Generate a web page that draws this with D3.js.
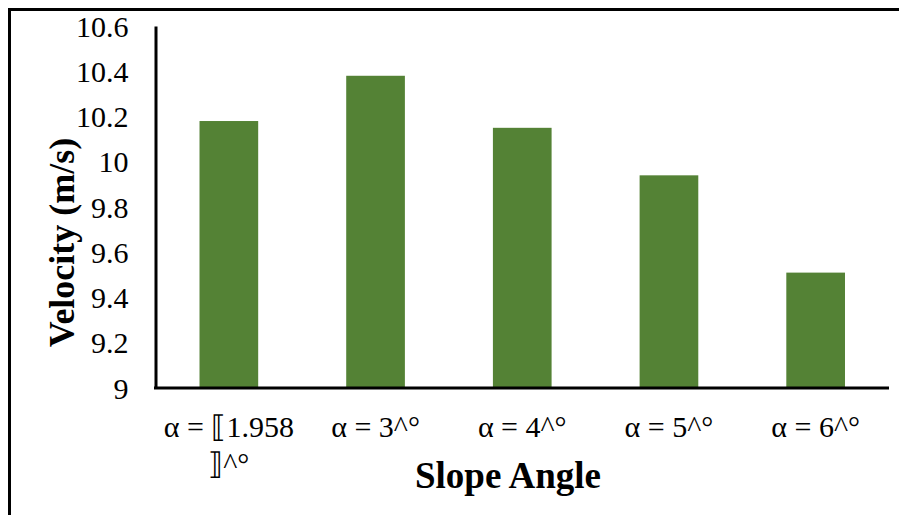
<!DOCTYPE html>
<html>
<head>
<meta charset="utf-8">
<script src="https://cdn.jsdelivr.net/npm/d3@7"></script>
<style>
  html, body { margin: 0; padding: 0; background: #fff; }
  svg { display: block; }
</style>
</head>
<body>
<svg id="chart" width="899" height="515"></svg>
<script>
// Velocity at each slope angle
const categories = ["α = ⟦1.958 ⟧^°", "α = 3^°", "α = 4^°", "α = 5^°", "α = 6^°"];
const labelLines = [["α = ⟦1.958", "⟧^°"], ["α = 3^°"], ["α = 4^°"], ["α = 5^°"], ["α = 6^°"]];
const velocities = [10.18, 10.38, 10.15, 9.94, 9.51];
const yTicks = [9, 9.2, 9.4, 9.6, 9.8, 10, 10.2, 10.4, 10.6];

const FONT = '"Liberation Serif", "Times New Roman", serif';
const svg = d3.select("#chart");
const margin = { left: 155.5, top: 26 };
const W = 899, H = 515;

// outer frame (only top and left edges fall inside the canvas)
svg.append("rect")
  .attr("x", 9.5).attr("y", 9.5)
  .attr("width", W + 20).attr("height", H + 20)
  .attr("fill", "none").attr("stroke", "#000").attr("stroke-width", 3);

const x = d3.scaleBand()
  .domain(categories)
  .range([margin.left, 889])
  .paddingInner(0.6)
  .paddingOuter(0.3);

const y = d3.scaleLinear()
  .domain([9, 10.6])
  .range([388, margin.top]);

// bars
svg.append("g").selectAll("rect")
  .data(velocities)
  .join("rect")
  .attr("x", (d, i) => x(categories[i]))
  .attr("y", d => y(d))
  .attr("width", x.bandwidth())
  .attr("height", d => y(9) - y(d))
  .attr("fill", "#548235");

// y axis
const yAxis = svg.append("g")
  .attr("transform", `translate(${margin.left},0)`)
  .call(d3.axisLeft(y).tickValues(yTicks).tickSize(0).tickSizeOuter(0).tickPadding(27)
    .tickFormat(d => String(+d.toFixed(1))));
yAxis.select(".domain").attr("stroke", "#000").attr("stroke-width", 3);
yAxis.selectAll(".tick text")
  .style("font-family", FONT)
  .style("font-size", "30px")
  .style("fill", "#000")
  .attr("dy", "0.34em");

// x axis
const xAxis = svg.append("g")
  .attr("transform", `translate(0,${y(9)})`)
  .call(d3.axisBottom(x).tickSize(0).tickSizeOuter(0).tickFormat(""));
xAxis.select(".domain").attr("stroke", "#000").attr("stroke-width", 3)
  .attr("d", `M${margin.left - 1.5},0H889`);

// category labels (wrapped)
const catG = svg.append("g");
categories.forEach((c, i) => {
  const cx = x(c) + x.bandwidth() / 2;
  const t = catG.append("text")
    .attr("x", cx)
    .attr("y", 437)
    .attr("text-anchor", "middle")
    .style("font-family", FONT)
    .style("font-size", "30px")
    .style("fill", "#000");
  labelLines[i].forEach((line, j) => {
    t.append("tspan")
      .attr("x", cx)
      .attr("dy", j === 0 ? 0 : 37)
      .text(line);
  });
});

// axis titles
svg.append("text")
  .attr("x", 508).attr("y", 488)
  .attr("text-anchor", "middle")
  .style("font-family", FONT)
  .style("font-size", "37px").style("font-weight", "bold")
  .text("Slope Angle");

svg.append("text")
  .attr("transform", "translate(74,242.5) rotate(-90)")
  .attr("text-anchor", "middle")
  .style("font-family", FONT)
  .style("font-size", "36px").style("font-weight", "bold")
  .text("Velocity (m/s)");
</script>
</body>
</html>
